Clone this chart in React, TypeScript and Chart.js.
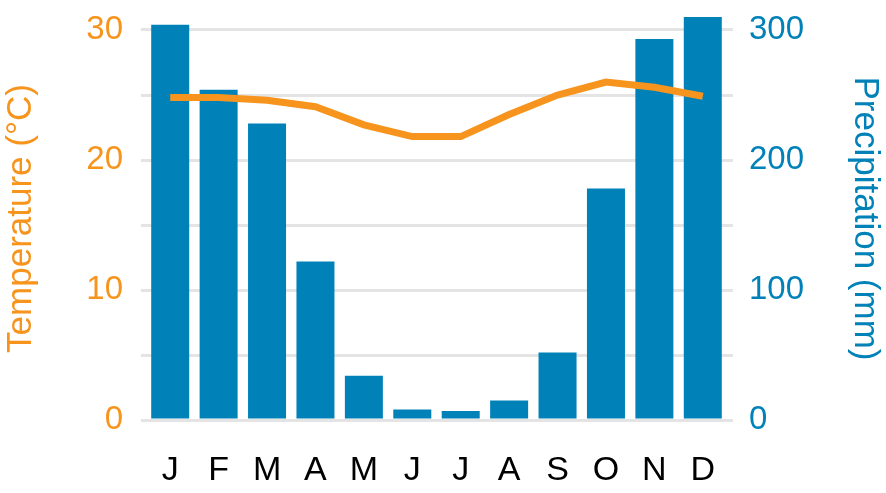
import React, { useEffect, useRef } from "react";
import { Chart, registerables } from "chart.js";

Chart.register(...registerables);

const months = ["J", "F", "M", "A", "M", "J", "J", "A", "S", "O", "N", "D"];
const temperature = [24.8, 24.8, 24.6, 24.1, 22.7, 21.8, 21.8, 23.5, 25.0, 26.0, 25.6, 24.9];
const precipitation = [304, 254, 228, 122, 34, 8, 7, 15, 52, 178, 293, 310];

const ORANGE = "#f7941d";
const BLUE = "#0082b9";
const GRID = "#e4e4e4";
const FONT = "'Liberation Sans', Arial, sans-serif";

const noPad = (s: any) => {
  s.paddingTop = 0;
  s.paddingBottom = 0;
  s.paddingLeft = 0;
  s.paddingRight = 0;
};

export default function App() {
  const ref = useRef<HTMLCanvasElement>(null);

  useEffect(() => {
    if (!ref.current) return;
    const chart = new Chart(ref.current, {
      data: {
        labels: months,
        datasets: [
          {
            type: "line",
            label: "Temperature",
            data: temperature,
            yAxisID: "yT",
            borderColor: ORANGE,
            backgroundColor: ORANGE,
            borderWidth: 7,
            pointRadius: 0,
            tension: 0,
            order: 0,
          },
          {
            type: "bar",
            label: "Precipitation",
            data: precipitation,
            yAxisID: "yP",
            backgroundColor: BLUE,
            borderWidth: 0,
            barPercentage: 0.785,
            categoryPercentage: 1,
            order: 1,
          },
        ],
      },
      options: {
        responsive: false,
        animation: false,
        layout: { padding: { top: 17, left: 0, right: 0, bottom: 0 } },
        plugins: { legend: { display: false }, tooltip: { enabled: false } },
        scales: {
          x: {
            grid: { display: false, drawTicks: false },
            border: { display: false },
            ticks: {
              color: "#000",
              font: { family: FONT, size: 34 },
              padding: 30,
              maxRotation: 0,
              autoSkip: false,
            },
            afterFit: (s: any) => {
              s.height = 73;
              noPad(s);
            },
          },
          yT: {
            position: "left",
            min: 0,
            max: 31,
            grid: { color: GRID, lineWidth: 3, drawTicks: true, tickLength: 5 },
            border: { display: false },
            ticks: {
              stepSize: 5,
              includeBounds: false,
              autoSkip: false,
              color: ORANGE,
              font: { family: FONT, size: 33 },
              padding: 18,
              callback: (v: any) => (Number(v) % 10 === 0 ? String(v) : ""),
            },
            title: {
              display: true,
              text: "Temperature (°C)",
              color: ORANGE,
              font: { family: FONT, size: 35 },
              padding: { top: 0, bottom: 0 },
            },
            afterFit: (s: any) => {
              s.width = 146;
              noPad(s);
            },
          },
          yP: {
            position: "right",
            min: 0,
            max: 310,
            grid: { color: GRID, lineWidth: 3, drawOnChartArea: false, drawTicks: true, tickLength: 6 },
            border: { display: false },
            ticks: {
              stepSize: 50,
              includeBounds: false,
              autoSkip: false,
              color: BLUE,
              font: { family: FONT, size: 33 },
              padding: 16,
              callback: (v: any) => (Number(v) % 100 === 0 ? String(v) : ""),
            },
            title: {
              display: true,
              text: "Precipitation (mm)",
              color: BLUE,
              font: { family: FONT, size: 35 },
              padding: { top: 0, bottom: 0 },
            },
            afterFit: (s: any) => {
              s.width = 159;
              noPad(s);
            },
          },
        },
      },
    } as any);
    return () => chart.destroy();
  }, []);

  return (
    <div style={{ position: "fixed", left: 0, top: 0, width: 886, height: 493, background: "#fff" }}>
      <canvas ref={ref} width={886} height={493} />
    </div>
  );
}
